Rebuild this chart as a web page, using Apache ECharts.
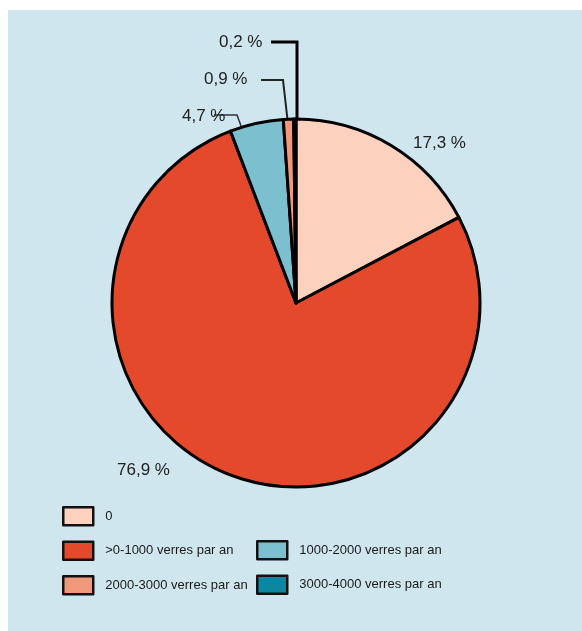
<!DOCTYPE html>
<html>
<head>
<meta charset="utf-8">
<script src="https://cdn.jsdelivr.net/npm/echarts@6/dist/echarts.min.js"></script>
<style>
  html, body { margin: 0; padding: 0; background: #ffffff; }
  #chart { width: 582px; height: 631px; }
</style>
</head>
<body>
<div id="chart"></div>
<script>
// Distribution of glasses per year (share of respondents, %)
const categories = ['0', '>0-1000 verres par an', '1000-2000 verres par an', '2000-3000 verres par an', '3000-4000 verres par an'];
const shares = [17.3, 76.9, 4.7, 0.9, 0.2];
const shareLabels = ['17,3 %', '76,9 %', '4,7 %', '0,9 %', '0,2 %'];
const colors = ['#fcd1bd', '#e5492b', '#7cc0d0', '#f1987a', '#0b87a2'];

const legendLeft = [categories[0], categories[1], categories[3]];
const legendRight = [categories[2], categories[4]];

const FONT = '"Liberation Sans", Arial, sans-serif';

// Label placement and leader lines for each slice
const labelPlacement = [
  { x: 413, y: 143, line: null },
  { x: 117, y: 470, line: null },
  { x: 182, y: 116, line: [[244, 134], [237, 115], [214, 115]] },
  { x: 204, y: 79, line: [[288, 124], [283, 80], [261, 80]] },
  { x: 219, y: 42, line: [[297, 124], [297, 42], [271, 42]] }
];
const lineStyles = [
  null, null,
  { color: '#333', width: 1.5 },
  { color: '#222', width: 2 },
  { color: '#000', width: 3 }
];

const chart = echarts.init(document.getElementById('chart'), null, { renderer: 'canvas' });

const pieData = categories.map((name, i) => ({
  name,
  value: shares[i],
  itemStyle: { color: colors[i] },
  label: { formatter: shareLabels[i] },
  labelLine: lineStyles[i]
    ? { show: true, lineStyle: lineStyles[i] }
    : { show: false }
}));

const legendBase = {
  orient: 'vertical',
  itemWidth: 30,
  itemHeight: 18,
  itemGap: 14,
  icon: 'rect',
  itemStyle: { borderColor: '#111', borderWidth: 2.5 },
  textStyle: { fontFamily: FONT, fontSize: 13, color: '#1a1a1a', padding: [0, 0, 0, 7] }
};

chart.setOption({
  backgroundColor: '#ffffff',
  animation: false,
  graphic: [{
    type: 'rect',
    shape: { x: 8, y: 10, width: 574, height: 621 },
    style: { fill: '#cfe6ee' },
    z: -10
  }],
  legend: [
    Object.assign({}, legendBase, { data: legendLeft, left: 57, top: 501 }),
    Object.assign({}, legendBase, { data: legendRight, left: 251, top: 535 })
  ],
  series: [{
    type: 'pie',
    center: [296, 303],
    radius: 184,
    startAngle: 90,
    clockwise: true,
    avoidLabelOverlap: false,
    silent: true,
    itemStyle: { borderColor: '#000', borderWidth: 3 },
    label: {
      show: true,
      position: 'outside',
      fontFamily: FONT,
      fontSize: 17,
      color: '#222'
    },
    labelLine: { show: true, length: 10, length2: 10 },
    labelLayout: function (params) {
      const p = labelPlacement[params.dataIndex];
      const out = { x: p.x, y: p.y, align: 'left', verticalAlign: 'middle' };
      if (p.line) out.labelLinePoints = p.line;
      return out;
    },
    data: pieData
  }]
});
</script>
</body>
</html>
